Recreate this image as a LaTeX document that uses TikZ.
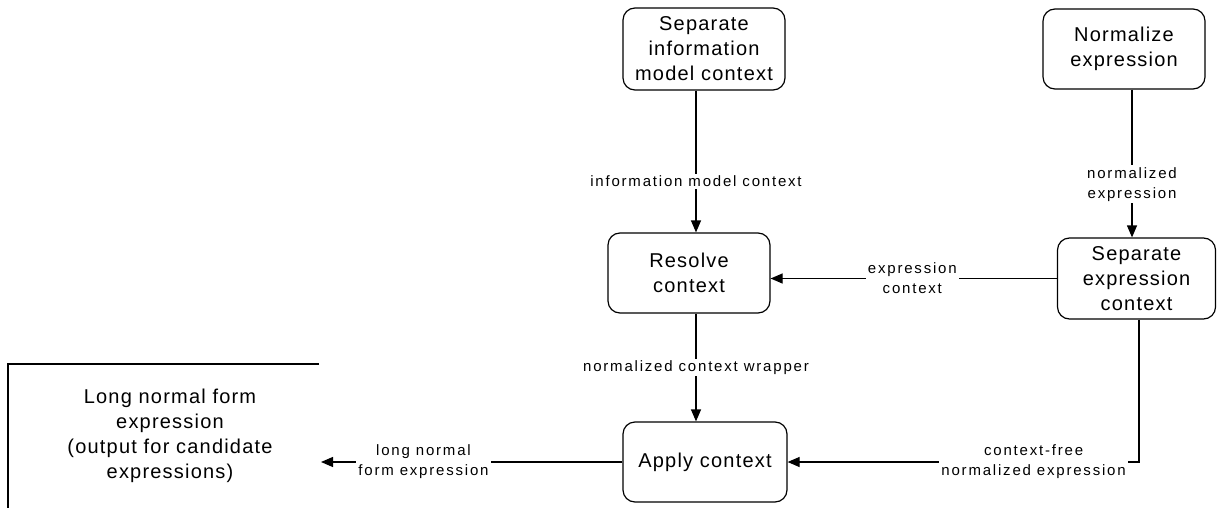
\documentclass[tikz,border=0pt]{standalone}
\usepackage{fontspec}
\setmainfont{Liberation Sans}
\newfontfamily\boxfont[LetterSpace=6]{Liberation Sans}
\newfontfamily\lblfont[LetterSpace=12]{Liberation Sans}
\usetikzlibrary{arrows.meta}
\begin{document}
\begin{tikzpicture}[x=1pt,y=-1pt,
  proc/.style={draw, line width=1.2pt, rounded corners=12pt, align=center,
    inner sep=0pt, font=\boxfont\fontsize{20}{25}\selectfont},
  lbl/.style={fill=white, align=center, inner sep=2pt,
    font=\lblfont\fontsize{15}{20}\selectfont},
  flow/.style={line width=1.2pt, -{Triangle[length=12pt,width=10pt]}},
  plain/.style={line width=1.2pt}]
\useasboundingbox (0,0) rectangle (1217,508);
\node[proc, minimum width=162pt, minimum height=82pt] (sepinfo) at (704,49)
  {Separate\\information\\model context};
\node[proc, minimum width=162pt, minimum height=80pt] (normexpr) at (1124,49)
  {Normalize\\expression};
\node[proc, minimum width=162pt, minimum height=80pt] (resolve) at (689,273)
  {Resolve\\context};
\node[proc, minimum width=158pt, minimum height=81pt] (sepexpr) at (1136.5,278.5)
  {Separate\\expression\\context};
\node[proc, minimum width=164pt, minimum height=80pt] (apply) at (705,462)
  {Apply context};
\node[align=center, inner sep=0pt, font=\boxfont\fontsize{20}{25}\selectfont] (store) at (170,436)
  {Long normal form\\expression\\(output for candidate\\expressions)};
\coordinate (storeTL) at (8,364);
\coordinate (storeTR) at (319,364);
\coordinate (storeBL) at (8,508);
\coordinate (storeIn) at (321,462);
\draw[plain] (storeTR) -- (storeTL) -- (storeBL);

\draw[flow] ([xshift=-8pt]sepinfo.south) -- ([xshift=-8pt]sepinfo.south |- resolve.north)
  node[lbl, pos=0.64] {information model context};
\draw[flow] ([xshift=8pt]normexpr.south) -- ([xshift=8pt]normexpr.south |- sepexpr.north)
  node[lbl, pos=0.64] {normalized\\expression};
\draw[flow] (sepexpr.west) -- (sepexpr.west -| resolve.east)
  node[lbl, pos=0.505] {expression\\context};
\draw[flow] ([xshift=7pt]resolve.south) -- ([xshift=7pt]resolve.south |- apply.north)
  node[lbl, pos=0.5] {normalized context wrapper};
\draw[flow] ([xshift=2.5pt]sepexpr.south) |- (apply.east)
  node[lbl, pos=0.65] {context-free\\normalized expression};
\draw[flow] (apply.west) -- (apply.west -| storeIn)
  node[lbl, pos=0.66] {long normal\\form expression};
\end{tikzpicture}
\end{document}
